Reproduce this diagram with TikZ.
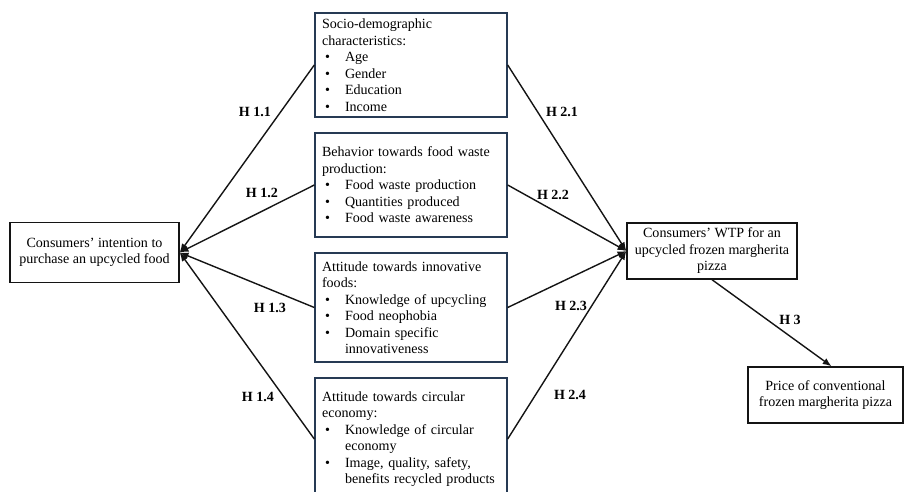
\documentclass[tikz,border=0pt]{standalone}
\usepackage{fontspec}
\setmainfont{Liberation Serif}
\usepackage{xcolor}
\usepackage{tikz}
\usetikzlibrary{arrows.meta, positioning}
\definecolor{mydark}{RGB}{20,20,20}
\definecolor{myframe}{RGB}{38,58,84}
\newcommand{\bitem}[1]{\par\noindent\hspace*{0.06cm}\makebox[0.40cm][l]{\textbullet}#1}
\newcommand{\bcont}[1]{\par\noindent\hspace*{0.46cm}#1}
\tikzset{
  outer/.style={rectangle, draw=mydark, line width=0.8pt, align=center,
    font=\fontsize{8}{9.4}\selectfont, inner sep=1pt},
  factor/.style={rectangle, draw=myframe, line width=0.8pt, text width=3.56cm,
    align=left, minimum width=3.84cm, inner xsep=0.14cm, inner ysep=1pt,
    font=\fontsize{8}{9.4}\selectfont},
  hyp/.style={font=\fontsize{8}{9.4}\selectfont\bfseries, inner sep=1pt},
  arrow/.style={-{Latex[length=5pt,width=4pt]}, line width=0.8pt, color=mydark}
}
\begin{document}
\begin{tikzpicture}[x=0.02cm, y=-0.02cm]
  \useasboundingbox (0,0) rectangle (905,492);

  % Intention
  \node[outer, minimum width=3.38cm, minimum height=1.2cm] (intent) at (94.5,252.5)
    {Consumers’ intention to\\purchase an upcycled food};

  % Factors
  \node[factor, minimum height=2.08cm] (socio) at (411,65)
    {Socio-demographic\\characteristics:\bitem{Age}\bitem{Gender}\bitem{Education}\bitem{Income}};
  \node[factor, minimum height=2.08cm] (waste) at (411,185)
    {Behavior towards food waste\\production:\bitem{Food waste production}\bitem{Quantities produced}\bitem{Food waste awareness}};
  \node[factor, minimum height=2.18cm] (innov) at (411,307.5)
    {Attitude towards innovative\\foods:\bitem{Knowledge of upcycling}\bitem{Food neophobia}\bitem{Domain specific}\bcont{innovativeness}};
  \node[factor, minimum height=2.44cm] (circ) at (411,439)
    {Attitude towards circular\\economy:\bitem{Knowledge of circular}\bcont{economy}\bitem{Image, quality, safety,}\bcont{benefits recycled products}};

  % WTP and price
  \node[outer, minimum width=3.4cm, minimum height=1.12cm] (wtp) at (712,251)
    {Consumers’ WTP for an\\upcycled frozen margherita\\pizza};
  \node[outer, minimum width=3.1cm, minimum height=1.12cm] (price) at (825.5,395)
    {Price of conventional\\frozen margherita pizza};

  % Hypotheses H1
  \draw[arrow] (socio.west) -- (intent.east);
  \draw[arrow] (waste.west) -- (intent.east);
  \draw[arrow] (innov.west) -- (intent.east);
  \draw[arrow] (circ.west) -- (intent.east);
  \node[hyp] (h11) at (255,112) {H 1.1};
  \node[hyp] (h12) at (262,193) {H 1.2};
  \node[hyp] (h13) at (270,308) {H 1.3};
  \node[hyp] (h14) at (258,397) {H 1.4};

  % Hypotheses H2
  \draw[arrow] (socio.east) -- (wtp.west);
  \draw[arrow] (waste.east) -- (wtp.west);
  \draw[arrow] (innov.east) -- (wtp.west);
  \draw[arrow] (circ.east) -- (wtp.west);
  \node[hyp] (h21) at (562,112) {H 2.1};
  \node[hyp] (h22) at (553,195) {H 2.2};
  \node[hyp] (h23) at (571,306) {H 2.3};
  \node[hyp] (h24) at (570,395) {H 2.4};

  % Hypothesis H3
  \draw[arrow] (wtp.south) -- ([xshift=0.12cm]price.north);
  \node[hyp] (h3) at (790,320) {H 3};
\end{tikzpicture}
\end{document}
